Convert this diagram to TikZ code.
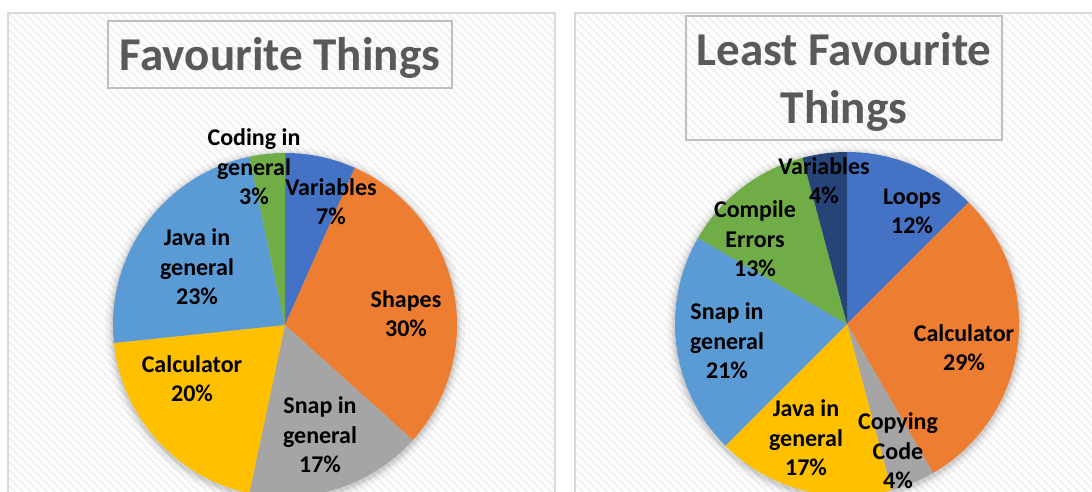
\documentclass[tikz,border=0pt]{standalone}
\usepackage{fontspec}
\setmainfont{Carlito}
\definecolor{cBlue}{HTML}{4472C4}
\definecolor{cOrange}{HTML}{ED7D31}
\definecolor{cGray}{HTML}{A5A5A5}
\definecolor{cYellow}{HTML}{FFC000}
\definecolor{cLightBlue}{HTML}{5B9BD5}
\definecolor{cGreen}{HTML}{70AD47}
\definecolor{cDarkBlue}{HTML}{264478}
\definecolor{titleGray}{HTML}{595959}
\definecolor{panelBorder}{HTML}{D9D9D9}
\definecolor{boxBorder}{HTML}{BFBFBF}
\definecolor{hatch}{HTML}{F1F1F1}
\tikzset{
  lbl/.style={font=\fontsize{18}{22}\selectfont\bfseries, align=center, inner sep=0pt, text=black},
  ttl/.style={font=\fontsize{35.3}{43.5}\selectfont\bfseries, align=center, inner sep=0pt, text=titleGray},
  panel/.style={draw=panelBorder, line width=1.2pt},
  tbox/.style={draw=boxBorder, line width=0.9pt},
  hatchline/.style={draw=hatch, line width=1.6pt}
}
\newcommand{\pieslice}[5]{% center, radius, start, end, colour
  \fill[#5] (#1) -- ++(#3:#2) arc[start angle=#3, end angle=#4, radius=#2] -- cycle;}
\begin{document}
\begin{tikzpicture}[x=0.75pt,y=0.75pt]
\useasboundingbox (0,0) rectangle (1092,-492);
\fill[white] (0,0) rectangle (1092,-492);
\begin{scope}
\clip (0,0) rectangle (1092,-492);
% panels with hatching
\begin{scope}
\clip (8,-13) rectangle (555,-500);
\foreach \k in {-520,-512,...,560} {\draw[hatchline] (\k,-13) -- ++(500,-500);}
\end{scope}
\begin{scope}
\clip (575,-13) rectangle (1100,-500);
\foreach \k in {40,48,...,1100} {\draw[hatchline] (\k,-13) -- ++(500,-500);}
\end{scope}
\draw[panel] (8,-520) -- (8,-13) -- (555,-13) -- (555,-520);
\draw[panel] (575,-520) -- (575,-13) -- (1110,-13);
% titles
\draw[tbox] (108,-21) rectangle (452,-88);
\node[ttl, anchor=base] (t1) at (280,-70.5) {Favourite Things};
\draw[tbox] (686,-16) rectangle (1002,-140);
\node[ttl] (t2) at (844,-82) {Least Favourite\\Things};
% shadows
\foreach \s/\o in {180/0.03,177/0.04,175/0.05,173.5/0.06} {
  \fill[black, opacity=\o] (285,-327) circle (\s);
  \fill[black, opacity=\o] (847,-326) circle (\s);
}
% left pie
\coordinate (c1) at (285,-325);
\pieslice{c1}{172}{90}{66}{cBlue}
\pieslice{c1}{172}{66}{-42}{cOrange}
\pieslice{c1}{172}{-42}{-102}{cGray}
\pieslice{c1}{172}{-102}{-174}{cYellow}
\pieslice{c1}{172}{-174}{-258}{cLightBlue}
\pieslice{c1}{172}{-258}{-270}{cGreen}
% right pie
\coordinate (c2) at (847,-324);
\pieslice{c2}{172}{90}{45}{cBlue}
\pieslice{c2}{172}{45}{-60}{cOrange}
\pieslice{c2}{172}{-60}{-75}{cGray}
\pieslice{c2}{172}{-75}{-135}{cYellow}
\pieslice{c2}{172}{-135}{-210}{cLightBlue}
\pieslice{c2}{172}{-210}{-255}{cGreen}
\pieslice{c2}{172}{-255}{-270}{cDarkBlue}
% left labels
\node[lbl] (l1) at (254,-167) {Coding in\\general\\3\%};
\node[lbl] (l2) at (331,-202) {Variables\\7\%};
\node[lbl] (l3) at (197,-267) {Java in\\general\\23\%};
\node[lbl] (l4) at (406,-314) {Shapes\\30\%};
\node[lbl] (l5) at (192,-379) {Calculator\\20\%};
\node[lbl] (l6) at (320,-435) {Snap in\\general\\17\%};
% right labels
\node[lbl] (r1) at (824,-181) {Variables\\4\%};
\node[lbl] (r2) at (912,-211) {Loops\\12\%};
\node[lbl] (r3) at (755,-239) {Compile\\Errors\\13\%};
\node[lbl] (r4) at (727,-341) {Snap in\\general\\21\%};
\node[lbl] (r5) at (964,-348) {Calculator\\29\%};
\node[lbl] (r6) at (806,-438) {Java in\\general\\17\%};
\node[lbl] (r7) at (898,-451) {Copying\\Code\\4\%};
\end{scope}
\end{tikzpicture}
\end{document}
